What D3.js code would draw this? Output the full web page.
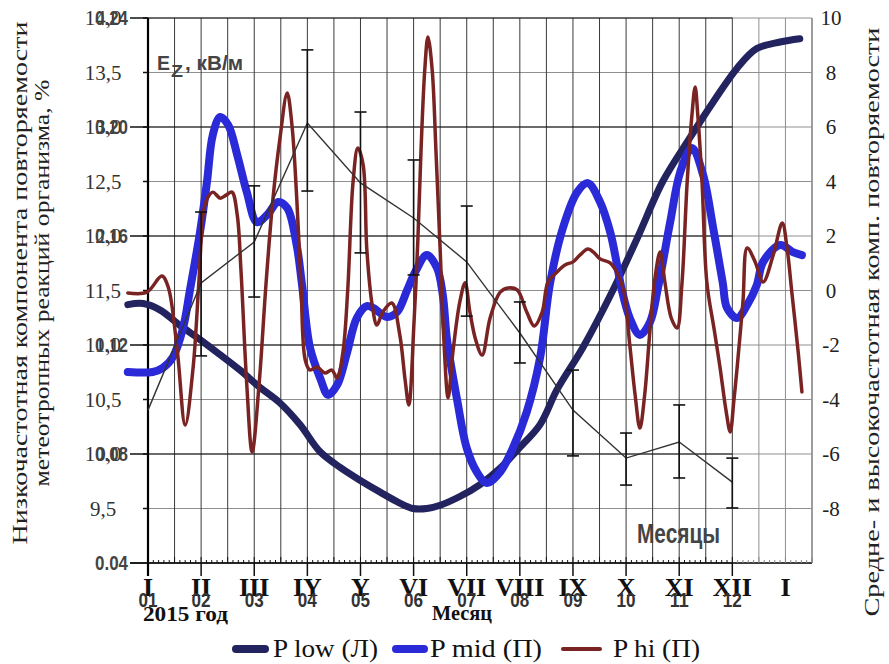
<!DOCTYPE html>
<html>
<head>
<meta charset="utf-8">
<script src="https://cdn.jsdelivr.net/npm/d3@7"></script>
<style>
  body { margin: 0; background: #fff; }
  svg { display: block; }
</style>
</head>
<body>
<svg id="chart" width="889" height="664"></svg>
<script>
// month position (0 = I / 01) and value
var lowX = [-0.38, -0.09, 0.23, 0.60, 0.98, 1.36, 1.73, 2.11, 2.48, 2.86, 3.24, 3.61, 3.99, 4.37, 4.74, 4.99, 5.25, 5.50, 5.87, 6.25, 6.63, 7.00, 7.38, 7.70, 8.19, 8.75, 9.21, 9.69, 10.20, 10.64, 11.09, 11.46, 11.90, 12.27];
var lowY = [11.37, 11.38, 11.32, 11.18, 11.05, 10.91, 10.77, 10.61, 10.47, 10.27, 10.02, 9.88, 9.76, 9.65, 9.55, 9.50, 9.50, 9.53, 9.61, 9.72, 9.87, 10.06, 10.27, 10.59, 10.98, 11.50, 11.98, 12.50, 12.90, 13.23, 13.54, 13.72, 13.78, 13.81];

var midX = [-0.38, 0.09, 0.28, 0.47, 0.66, 0.79, 0.98, 1.11, 1.22, 1.36, 1.51, 1.68, 1.86, 2.05, 2.24, 2.45, 2.62, 2.80, 2.90, 3.05, 3.24, 3.39, 3.56, 3.75, 3.93, 4.12, 4.24, 4.50, 4.69, 4.88, 5.03, 5.25, 5.44, 5.55, 5.63, 5.82, 6.00, 6.19, 6.38, 6.63, 6.87, 7.13, 7.38, 7.57, 7.81, 8.08, 8.28, 8.51, 8.70, 8.83, 8.92, 9.07, 9.26, 9.45, 9.60, 9.83, 10.02, 10.24, 10.45, 10.64, 10.82, 10.90, 11.09, 11.28, 11.46, 11.58, 11.90, 12.14, 12.31];
var midY = [-2.99, -2.99, -2.84, -2.44, -1.38, 0.02, 2.15, 3.98, 5.71, 6.37, 6.07, 4.97, 3.61, 2.51, 2.77, 3.25, 3.03, 1.65, 0.20, -2.10, -3.21, -3.83, -3.47, -2.26, -1.01, -0.57, -0.64, -0.97, -0.79, 0.02, 0.68, 1.30, 0.83, -0.17, -1.82, -4.02, -5.78, -6.66, -7.06, -6.66, -5.78, -4.46, -2.48, 0.28, 2.29, 3.61, 3.94, 3.25, 2.15, 0.94, 0.02, -1.01, -1.63, -1.16, 0.09, 2.51, 4.35, 5.23, 4.24, 2.29, 0.28, -0.64, -1.01, -0.53, 0.20, 1.05, 1.67, 1.41, 1.30];

var hiX = [-0.38, -0.02, 0.26, 0.38, 0.55, 0.70, 0.85, 0.96, 1.05, 1.13, 1.22, 1.36, 1.47, 1.58, 1.68, 1.75, 1.86, 1.96, 2.09, 2.22, 2.35, 2.48, 2.62, 2.71, 2.80, 2.88, 2.96, 3.05, 3.18, 3.33, 3.46, 3.56, 3.67, 3.76, 3.86, 3.95, 4.05, 4.12, 4.22, 4.31, 4.42, 4.59, 4.74, 4.84, 4.91, 5.01, 5.08, 5.14, 5.21, 5.27, 5.35, 5.42, 5.50, 5.57, 5.65, 5.74, 5.87, 5.97, 6.06, 6.17, 6.29, 6.44, 6.63, 6.78, 6.95, 7.13, 7.27, 7.42, 7.53, 7.70, 7.85, 8.00, 8.13, 8.28, 8.40, 8.51, 8.70, 8.85, 8.96, 9.07, 9.17, 9.26, 9.35, 9.45, 9.54, 9.64, 9.73, 9.85, 9.96, 10.05, 10.15, 10.24, 10.30, 10.35, 10.43, 10.52, 10.66, 10.77, 10.88, 10.96, 11.03, 11.09, 11.20, 11.28, 11.43, 11.58, 11.77, 11.94, 12.03, 12.12, 12.24, 12.31];
var hiY = [-0.09, -0.06, 0.53, 0.13, -2.18, -4.94, -2.81, 0.39, 2.95, 3.43, 3.61, 3.39, 3.50, 3.61, 2.77, 0.75, -3.47, -5.93, -3.47, 0.20, 3.32, 5.52, 7.25, 6.07, 3.39, 0.20, -2.55, -2.92, -2.81, -3.03, -2.92, -3.21, -2.26, 0.02, 3.98, 5.23, 4.61, 1.49, -0.53, -1.27, -0.79, -0.46, -1.63, -3.28, -4.20, -1.08, 1.85, 5.16, 8.09, 9.30, 8.09, 5.16, 1.49, -1.82, -3.94, -2.26, -0.42, 0.28, -0.79, -1.82, -2.37, -1.01, -0.06, 0.09, 0.02, -0.79, -1.30, -0.79, 0.31, 0.68, 0.94, 1.05, 1.30, 1.52, 1.38, 1.16, 1.01, 0.57, -0.06, -2.00, -3.83, -5.05, -3.83, -1.45, 0.39, 1.41, 0.31, -1.01, -1.38, 0.20, 3.98, 6.44, 7.47, 6.44, 3.98, 0.31, -1.45, -2.84, -4.39, -5.19, -4.02, -2.84, -0.42, 1.56, 1.05, 0.31, 1.30, 2.48, 1.56, -0.06, -2.26, -3.72];

// Ez, kV/m, monthly means with error bars
var ezMonths = [0, 1, 2, 3, 4, 5, 6, 7, 8, 9, 10, 11];
var ezValues = [0.0961, 0.1428, 0.1578, 0.2015, 0.1795, 0.1666, 0.1505, 0.1244, 0.0961, 0.0785, 0.0844, 0.0697];
var ezHigh = [null, 0.1688, 0.1784, 0.2283, 0.2055, 0.1879, 0.1710, 0.1358, 0.1108, 0.0877, 0.0980, 0.0785];
var ezLow = [null, 0.1160, 0.1376, 0.1765, 0.1538, 0.1457, 0.1306, 0.1134, 0.0793, 0.0686, 0.0712, 0.0602];

var romanLabels = ['I', 'II', 'III', 'IY', 'Y', 'VI', 'VII', 'VIII', 'IX', 'X', 'XI', 'XII', 'I'];
var monthLabels = ['01', '02', '03', '04', '05', '06', '07', '08', '09', '10', '11', '12'];
var leftTicks = [9.5, 10, 10.5, 11, 11.5, 12, 12.5, 13, 13.5, 14];
var rightTicks = [-8, -6, -4, -2, 0, 2, 4, 6, 8, 10];
var ezTicks = [0.04, 0.08, 0.12, 0.16, 0.20, 0.24];

var SERIF = "'Liberation Serif'";
var SANS = "'Liberation Sans'";

var svg = d3.select('#chart');

var x = d3.scaleLinear().domain([0, 12.5]).range([148, 812]);
var yLow = d3.scaleLinear().domain([9, 14]).range([563, 18]);
var yHi = d3.scaleLinear().domain([-10, 10]).range([563, 18]);
var yEz = d3.scaleLinear().domain([0.04, 0.24]).range([563, 18]);
var ezEnd = x(11);

var halfMonths = d3.range(1, 26).map(function(d) { return d / 2; });
var minorTicks = d3.range(0, 126).map(function(d) { return d / 10; });
var gridHalf = [9].concat(leftTicks);

// main chart grid (gray)
svg.append('g').selectAll('line').data(gridHalf).enter().append('line')
  .attr('x1', x(0)).attr('x2', x(12.5))
  .attr('y1', function(d) { return yLow(d); }).attr('y2', function(d) { return yLow(d); })
  .attr('stroke', '#8f8f8f').attr('stroke-width', 1);

svg.append('g').selectAll('line').data(halfMonths).enter().append('line')
  .attr('x1', function(d) { return x(d); }).attr('x2', function(d) { return x(d); })
  .attr('y1', yLow(14)).attr('y2', yLow(9))
  .attr('stroke', function(d) { return d <= 11 ? '#3a3a3a' : '#8f8f8f'; })
  .attr('stroke-width', 1);

// Ez chart grid (black)
svg.append('g').selectAll('line').data(ezTicks).enter().append('line')
  .attr('x1', x(0)).attr('x2', ezEnd)
  .attr('y1', function(d) { return yEz(d); }).attr('y2', function(d) { return yEz(d); })
  .attr('stroke', '#111').attr('stroke-width', 1.2);

svg.append('line').attr('x1', x(12.5)).attr('x2', x(12.5)).attr('y1', yLow(14)).attr('y2', yLow(9))
  .attr('stroke', '#8f8f8f').attr('stroke-width', 1.5);

// bottom axis with ticks
svg.append('line').attr('x1', 130).attr('x2', x(12.5)).attr('y1', yLow(9)).attr('y2', yLow(9))
  .attr('stroke', '#111').attr('stroke-width', 1.5);

svg.append('g').selectAll('line').data(minorTicks).enter().append('line')
  .attr('x1', function(d) { return x(d); }).attr('x2', function(d) { return x(d); })
  .attr('y1', yLow(9)).attr('y2', function(d) { return yLow(9) - (Math.round(d * 10) % 5 === 0 ? 6 : 3); })
  .attr('stroke', function(d) { return d <= 11 ? '#111' : '#888'; }).attr('stroke-width', 1);

svg.append('g').selectAll('line').data(ezMonths).enter().append('line')
  .attr('x1', function(d) { return x(d); }).attr('x2', function(d) { return x(d); })
  .attr('y1', yLow(9)).attr('y2', yLow(9) + 13)
  .attr('stroke', '#111').attr('stroke-width', 1.5);

// left axis
svg.append('line').attr('x1', x(0)).attr('x2', x(0)).attr('y1', yLow(14)).attr('y2', yLow(9) + 13)
  .attr('stroke', '#000').attr('stroke-width', 2.2);

svg.append('g').selectAll('line').data(leftTicks).enter().append('line')
  .attr('x1', x(0) - 5).attr('x2', x(0))
  .attr('y1', function(d) { return yLow(d); }).attr('y2', function(d) { return yLow(d); })
  .attr('stroke', '#111').attr('stroke-width', 1.5);

svg.append('g').selectAll('line').data(ezTicks).enter().append('line')
  .attr('x1', 130).attr('x2', x(0))
  .attr('y1', function(d) { return yEz(d); }).attr('y2', function(d) { return yEz(d); })
  .attr('stroke', '#111').attr('stroke-width', 1.5);

// series
function drawSeries(xs, ys, yScale, color, width) {
  var pts = xs.map(function(d, i) { return [x(d), yScale(ys[i])]; });
  var line = d3.line().curve(d3.curveCatmullRom.alpha(0.5));
  svg.append('path').attr('d', line(pts))
    .attr('fill', 'none').attr('stroke', color).attr('stroke-width', width)
    .attr('stroke-linecap', 'round').attr('stroke-linejoin', 'round');
}

drawSeries(lowX, lowY, yLow, '#23235f', 7);
drawSeries(midX, midY, yHi, '#2a2ad8', 8);
drawSeries(hiX, hiY, yHi, '#7a2323', 3.5);

// Ez line with error bars
var ezLine = d3.line()
  .x(function(d) { return x(d); })
  .y(function(d, i) { return yEz(ezValues[i]); });
svg.append('path').attr('d', ezLine(ezMonths))
  .attr('fill', 'none').attr('stroke', '#333').attr('stroke-width', 1.4);

var bars = svg.append('g').selectAll('g').data(ezMonths.filter(function(d, i) { return ezHigh[i] !== null; }))
  .enter().append('g');
bars.append('line')
  .attr('x1', function(d) { return x(d); }).attr('x2', function(d) { return x(d); })
  .attr('y1', function(d) { return yEz(ezHigh[d]); }).attr('y2', function(d) { return yEz(ezLow[d]); })
  .attr('stroke', '#111').attr('stroke-width', 1.6);
bars.append('line')
  .attr('x1', function(d) { return x(d) - 6; }).attr('x2', function(d) { return x(d) + 6; })
  .attr('y1', function(d) { return yEz(ezHigh[d]); }).attr('y2', function(d) { return yEz(ezHigh[d]); })
  .attr('stroke', '#111').attr('stroke-width', 1.6);
bars.append('line')
  .attr('x1', function(d) { return x(d) - 6; }).attr('x2', function(d) { return x(d) + 6; })
  .attr('y1', function(d) { return yEz(ezLow[d]); }).attr('y2', function(d) { return yEz(ezLow[d]); })
  .attr('stroke', '#111').attr('stroke-width', 1.6);

// text helper
function label(txt, px, py, o) {
  var t = svg.append('text').attr('x', px).attr('y', py).text(txt)
    .style('font-family', o.family || SERIF)
    .style('font-size', o.size + 'px')
    .style('font-weight', o.bold ? '700' : '400')
    .attr('fill', o.color || '#111')
    .attr('text-anchor', o.anchor || 'start');
  if (o.len) t.attr('textLength', o.len).attr('lengthAdjust', 'spacingAndGlyphs');
  if (o.rotate) {
    t.attr('x', 0).attr('y', 0).attr('dy', '0.35em')
      .attr('transform', 'translate(' + px + ',' + py + ') rotate(-90)');
  }
  return t;
}

leftTicks.forEach(function(d) {
  label(d3.format('.1f')(d).replace('.', ','), 103, yLow(d) + 7, { size: 21, anchor: 'middle', color: '#333' });
});
ezTicks.forEach(function(d) {
  label(d3.format('.2f')(d), 128, yEz(d) + 7, { family: SANS, size: 20, bold: true, anchor: 'end', color: '#444', len: 33 });
});
rightTicks.forEach(function(d) {
  label(String(d), 831, yHi(d) + 7, { size: 21, anchor: 'middle', color: '#222' });
});

romanLabels.forEach(function(d, i) {
  label(d, x(i), 596, { size: 26, bold: true, anchor: 'middle', color: '#111' });
});
monthLabels.forEach(function(d, i) {
  label(d, x(i), 607, { family: SANS, size: 21, bold: true, anchor: 'middle', color: '#333', len: 19 });
});

label('2015 год', 143, 621, { size: 21, bold: true, len: 85 });
label('Месяц', 432, 620, { size: 20, bold: true, len: 60 });
label('Месяцы', 637, 543, { family: SANS, size: 27, bold: true, color: '#444', len: 83 });

label('E', 157, 70, { family: SANS, size: 21, bold: true, color: '#444', len: 13 });
label('Z', 171, 77, { family: SANS, size: 17, bold: true, color: '#444', len: 12 });
label(', кВ/м', 185, 70, { family: SANS, size: 21, bold: true, color: '#444', len: 58 });

label('Низкочастотная компонента повторяемости', 20, 283, { size: 21, anchor: 'middle', rotate: true, len: 523, color: '#222' });
label('метеотропных реакций организма, %', 42, 283, { size: 21, anchor: 'middle', rotate: true, len: 407, color: '#222' });
label('Средне- и высокочастотная комп. повторяемости', 872, 322, { size: 21, anchor: 'middle', rotate: true, len: 589, color: '#222' });

// legend
var legendItems = [
  { name: 'P low (Л)', color: '#23235f', width: 8, x0: 233, x1: 268, tx: 273, len: 105 },
  { name: 'P mid (П)', color: '#2a2ad8', width: 8, x0: 393, x1: 427, tx: 430, len: 112 },
  { name: 'P hi (П)', color: '#7a2323', width: 4, x0: 560, x1: 603, tx: 613, len: 87 }
];
legendItems.forEach(function(d) {
  svg.append('line').attr('x1', d.x0 + 3).attr('x2', d.x1 - 3).attr('y1', 649).attr('y2', 649)
    .attr('stroke', d.color).attr('stroke-width', d.width).attr('stroke-linecap', 'round');
  label(d.name, d.tx, 657, { size: 26, len: d.len, color: '#111' });
});
</script>
</body>
</html>
